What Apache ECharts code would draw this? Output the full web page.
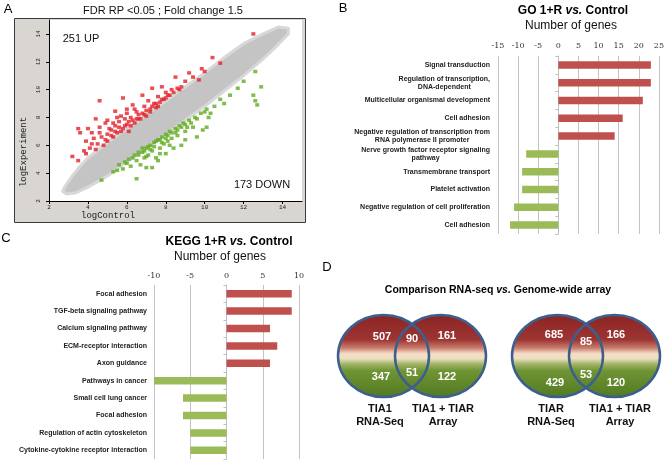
<!DOCTYPE html>
<html><head><meta charset="utf-8">
<script src="https://cdn.jsdelivr.net/npm/echarts@6/dist/echarts.min.js"></script>
<style>html,body{margin:0;padding:0;background:#fff}#c{width:667px;height:462px}</style>
</head><body><div id="c"></div>
<script>
// ---------- Panel A data (logControl, logExperiment) ----------
const cloudUpper = [[2.8,3.0],[3.2,3.8],[3.6,4.5],[4,5.1],[5,6.2],[6,7.2],[7,8.2],[8,9.2],[9,10.2],[10,11.2],[11,12.3],[12,13.3],[13,14.0],[13.8,14.5],[14.3,14.4]];
const cloudLower = [[14.3,14.0],[13.6,13.0],[13,12.2],[12,11.0],[11,9.9],[10,8.8],[9,7.8],[8,6.8],[7,5.8],[6,4.8],[5,3.8],[4,3.0],[3.4,2.6],[2.9,2.5],[2.7,2.7]];
const upPoints = [[3.2,5.2],[3.5,4.9],[3.5,7.2],[3.6,6.9],[3.8,5.6],[3.9,6.3],[4.0,7.2],[4.1,5.8],[4.2,6.9],[4.3,6.5],[4.4,5.7],[4.4,7.9],[4.5,6.1],[4.6,9.2],[4.6,7.3],[4.7,6.6],[4.8,6.0],[4.9,7.6],[5.0,7.8],[5.0,6.8],[5.0,6.3],[5.1,7.2],[5.2,7.1],[5.3,6.6],[5.4,8.45],[5.4,7.4],[5.5,6.9],[5.6,7.7],[5.7,8.1],[5.8,9.4],[5.8,7.2],[5.9,7.9],[6.0,8.3],[6.0,7.5],[6.1,7.0],[6.2,8.0],[6.3,8.9],[6.4,7.6],[6.5,8.4],[6.6,7.9],[6.8,9.6],[6.8,8.3],[6.9,8.8],[7.0,8.1],[7.1,9.2],[7.2,8.6],[7.3,10.1],[7.4,9.0],[7.5,8.7],[7.6,9.5],[7.7,9.1],[7.8,10.2],[7.9,9.3],[8.0,9.8],[8.1,9.6],[8.3,10.0],[8.5,10.9],[8.6,10.1],[8.8,10.2],[9.0,10.6],[9.2,11.2],[9.4,10.9],[9.7,10.7],[9.85,11.5],[10.0,11.3],[10.4,12.3],[10.8,11.9],[12.5,14.0],
  [4.9,6.4],[5.2,6.7],[5.4,7.0],[5.6,7.3],[5.7,7.0],[5.9,7.4],[6.1,7.7],[6.2,7.4],[6.3,7.8],[6.5,7.9],[6.6,8.2],[6.7,7.9],[6.9,8.2],[7.0,8.5],[7.2,8.4],[7.3,8.8],[7.5,9.0],[7.6,8.8],[7.8,9.3],[8.0,9.4],[8.2,9.6],[8.4,9.8],[8.7,10.0],[5.3,7.6],[5.5,8.0],[6.0,8.6],[6.4,8.6],[4.6,6.9],[4.2,6.1],[3.9,5.4]];
const downPoints = [[4.7,3.5],[5.3,4.1],[5.5,4.2],[5.8,4.3],[6.0,4.7],[6.2,4.5],[6.3,5.1],[6.5,3.6],[6.5,4.9],[6.6,5.3],[6.7,4.6],[6.8,5.5],[6.9,5.1],[7.0,4.4],[7.0,5.8],[7.1,5.3],[7.2,6.0],[7.3,4.4],[7.3,5.6],[7.4,6.2],[7.5,5.1],[7.6,4.9],[7.6,6.4],[7.7,5.8],[7.8,6.6],[7.9,6.1],[8.0,6.8],[8.0,5.4],[8.1,6.3],[8.2,7.0],[8.3,6.5],[8.4,5.8],[8.5,7.2],[8.6,6.7],[8.7,7.4],[8.8,6.0],[8.9,7.6],[9.0,6.4],[9.0,7.0],[9.2,7.8],[9.4,7.3],[9.5,8.0],[9.6,6.6],[9.8,8.3],[9.9,7.1],[10.1,8.6],[10.1,7.3],[10.3,8.3],[10.5,8.8],[10.8,9.3],[11.0,9.0],[11.3,9.6],[11.7,10.1],[12.0,10.6],[12.6,11.3],[12.9,10.2],[12.5,9.6],[12.6,9.2],[12.7,8.9],
  [6.4,5.3],[6.6,5.5],[6.8,5.8],[6.9,5.6],[7.1,5.9],[7.2,5.7],[7.4,5.9],[7.5,6.3],[7.7,6.4],[7.8,6.2],[8.0,6.5],[8.1,6.7],[8.3,6.9],[8.5,6.9],[8.6,7.1],[8.8,7.3],[9.0,7.5],[9.1,7.3],[9.3,7.6],[9.6,7.9],[10.0,8.4],[10.2,8.0],[6.1,5.0],[5.9,4.8],[5.6,4.6],[7.0,5.2],[7.7,5.4],[8.2,6.0]];
const axisATitle = 'FDR RP <0.05 ; Fold change 1.5';
const upLabel = '251 UP';
const downLabel = '173 DOWN';

// ---------- Panel B data ----------
const goCategories = ['Signal transduction','Regulation of transcription,\nDNA-dependent','Multicellular organismal development','Cell adhesion','Negative regulation of transcription from\nRNA polymerase II promoter','Nerve growth factor receptor signaling\npathway','Transmembrane transport','Platelet activation','Negative regulation of cell proliferation','Cell adhesion'];
const goValues = [23,23,21,16,14,-8,-9,-9,-11,-12];

// ---------- Panel C data ----------
const keggCategories = ['Focal adhesion','TGF-beta signaling pathway','Calcium signaling pathway','ECM-receptor interaction','Axon guidance','Pathways in cancer','Small cell lung cancer','Focal adhesion','Regulation of actin cytoskeleton','Cytokine-cytokine receptor interaction'];
const keggValues = [9,9,6,7,6,-10,-6,-6,-5,-5];

// ---------- Panel D data ----------
const vennSetNames = [['TIA1\nRNA-Seq','TIA1 + TIAR\nArray'],['TIAR\nRNA-Seq','TIA1 + TIAR\nArray']];
const vennUpCounts = [[507,90,161],[685,85,166]];
const vennDownCounts = [[347,51,122],[429,53,120]];

// ---------- helpers ----------
const RED = '#c0504d', GREEN = '#9bbb59';
const LABEL_FONT = 'bold 7px "Liberation Sans"';
function centeredLabels(cats, key) {
  const ctx = document.createElement('canvas').getContext('2d');
  ctx.font = LABEL_FONT;
  const rich = {};
  const texts = cats.map((c, i) => {
    const lines = c.split('\n');
    if (lines.length < 2) return c;
    const w = lines.map(l => ctx.measureText(l).width);
    const mw = Math.max(...w);
    return lines.map((l, j) => {
      const k = key + i + 'x' + j;
      rich[k] = {padding: [0, (mw - w[j]) / 2, 0, 0], fontSize: 7, fontWeight: 'bold', fontFamily: 'Liberation Sans', color: '#222', lineHeight: 8};
      return '{' + k + '|' + l + '}';
    }).join('\n');
  });
  return {rich, formatter: (v, i) => texts[i]};
}
const goLab = centeredLabels(goCategories, 'g');
const kgLab = centeredLabels(keggCategories, 'k');

const chart = echarts.init(document.getElementById('c'), null, {renderer: 'canvas'});

const barLabelStyle = {fontSize: 7, fontWeight: 'bold', fontFamily: 'Liberation Sans', color: '#222', lineHeight: 8};
const topAxisLabel = {fontSize: 8, fontFamily: 'DejaVu Serif', color: '#333'};

function txt(x, y, text, font, extra) {
  return Object.assign({type: 'text', x, y, z: 50, style: Object.assign({text, font, fill: '#000', align: 'center', verticalAlign: 'middle'}, extra || {})});
}

const vennLayout = [
  {cx: 412, up: [[-30,-19],[0,-17],[35,-20]], down: [[-31,21],[0,17],[35,21]], lab: [-32, 31]},
  {cx: 586, up: [[-32,-21],[0,-14],[30,-21]], down: [[-31,27],[0,19],[30,27]], lab: [-35, 34]}
];
const vennCY = 356, vennDX = 28.5, vennRX = 45.5, vennRY = 41;

function vennFill() {
  return new echarts.graphic.LinearGradient(0, 0, 0, 1, [
    {offset: 0, color: '#8c2424'}, {offset: 0.3, color: '#9c3532'}, {offset: 0.4, color: '#c77a6a'},
    {offset: 0.47, color: '#f4dcc6'}, {offset: 0.53, color: '#efe0c4'}, {offset: 0.6, color: '#9fb466'},
    {offset: 0.68, color: '#6f9434'}, {offset: 1, color: '#537a22'}
  ]);
}

const option = {
  animation: false,
  backgroundColor: '#fff',
  grid: [
    {left: 49, top: 20, width: 253, height: 181, show: true, backgroundColor: '#fff', borderWidth: 0},
    {left: 498, top: 56, width: 162, height: 178},
    {left: 154, top: 285, width: 145, height: 174},
    {left: 0, top: 0, width: 667, height: 462}
  ],
  xAxis: [
    {type: 'value', gridIndex: 0, min: 2, max: 15, interval: 2,
     axisLine: {lineStyle: {color: '#000'}}, axisTick: {length: 3, lineStyle: {color: '#000'}},
     axisLabel: {showMaxLabel: false, fontSize: 6, fontFamily: 'Liberation Mono', color: '#222', margin: 3},
     splitLine: {show: false}},
    {type: 'value', gridIndex: 1, position: 'top', min: -15, max: 25, interval: 5,
     axisLine: {show: false}, axisTick: {show: false}, axisLabel: Object.assign({margin: 6}, topAxisLabel),
     splitLine: {lineStyle: {color: '#c4c4c4'}}},
    {type: 'value', gridIndex: 2, position: 'top', min: -10, max: 10, interval: 5,
     axisLine: {show: false}, axisTick: {show: false}, axisLabel: Object.assign({margin: 5}, topAxisLabel),
     splitLine: {lineStyle: {color: '#c4c4c4'}}},
    {type: 'value', gridIndex: 3, min: 0, max: 667, show: false}
  ],
  yAxis: [
    {type: 'value', gridIndex: 0, min: 2, max: 15, interval: 2,
     axisLine: {show: true, lineStyle: {color: '#000'}}, axisTick: {show: true, length: 3, lineStyle: {color: '#000'}},
     axisLabel: {showMaxLabel: false, rotate: 90, fontSize: 6, fontFamily: 'Liberation Mono', color: '#222', margin: 8},
     splitLine: {show: false}},
    {type: 'category', gridIndex: 1, data: goCategories, inverse: true,
     axisLine: {show: false, onZero: false}, axisTick: {show: false},
     axisLabel: Object.assign({margin: 8, formatter: goLab.formatter, rich: goLab.rich}, barLabelStyle)},
    {type: 'category', gridIndex: 1, data: goCategories, inverse: true, position: 'left',
     axisLine: {show: true, onZero: true, lineStyle: {color: '#bfbfbf'}}, axisTick: {show: true, length: 3, lineStyle: {color: '#bfbfbf'}},
     axisLabel: {show: false}},
    {type: 'category', gridIndex: 2, data: keggCategories, inverse: true,
     axisLine: {show: false, onZero: false}, axisTick: {show: false},
     axisLabel: Object.assign({margin: 7, formatter: kgLab.formatter, rich: kgLab.rich}, barLabelStyle)},
    {type: 'category', gridIndex: 2, data: keggCategories, inverse: true, position: 'left',
     axisLine: {show: true, onZero: true, lineStyle: {color: '#bfbfbf'}}, axisTick: {show: true, length: 3, lineStyle: {color: '#bfbfbf'}},
     axisLabel: {show: false}},
    {type: 'value', gridIndex: 3, min: 0, max: 462, inverse: true, show: false}
  ],
  series: [
    {type: 'custom', xAxisIndex: 0, yAxisIndex: 0, data: [[0, 0]], silent: true, z: 1,
     renderItem: (p, api) => ({type: 'polygon',
       shape: {points: cloudUpper.concat(cloudLower).map(pt => api.coord(pt))},
       style: {fill: '#c4c4c4', stroke: '#d8d8d8', lineWidth: 3, lineJoin: 'round'}})},
    {type: 'scatter', xAxisIndex: 0, yAxisIndex: 0, data: upPoints, symbol: 'rect', symbolSize: [4, 3.5],
     itemStyle: {color: '#e3222a'}, z: 3},
    {type: 'scatter', xAxisIndex: 0, yAxisIndex: 0, data: downPoints, symbol: 'rect', symbolSize: [4, 3.5],
     itemStyle: {color: '#62ad22'}, z: 3},
    {type: 'bar', xAxisIndex: 1, yAxisIndex: 1, data: goValues, barWidth: 7.5,
     itemStyle: {color: p => p.value >= 0 ? RED : GREEN}},
    {type: 'bar', xAxisIndex: 2, yAxisIndex: 3, data: keggValues, barWidth: 7.5,
     itemStyle: {color: p => p.value >= 0 ? RED : GREEN}},
    {type: 'custom', xAxisIndex: 3, yAxisIndex: 5, data: [[0, 0], [1, 0]], silent: true,
     renderItem: (p, api) => {
       const i = p.dataIndex, L = vennLayout[i];
       const c1 = api.coord([L.cx - vennDX, vennCY]);
       const c2 = api.coord([L.cx + vennDX, vennCY]);
       const children = [];
       [c1, c2].forEach(c => children.push({type: 'ellipse', shape: {cx: c[0], cy: c[1], rx: vennRX, ry: vennRY}, style: {fill: vennFill()}}));
       [c1, c2].forEach(c => children.push({type: 'ellipse', shape: {cx: c[0], cy: c[1], rx: vennRX, ry: vennRY}, style: {fill: 'none', stroke: '#3d5f8e', lineWidth: 2.5}}));
       vennUpCounts[i].forEach((v, k) => {
         const q = api.coord([L.cx + L.up[k][0], vennCY + L.up[k][1]]);
         children.push({type: 'text', x: q[0], y: q[1], style: {text: String(v), font: 'bold 11px "Liberation Sans"', fill: '#fff', align: 'center', verticalAlign: 'middle'}});
       });
       vennDownCounts[i].forEach((v, k) => {
         const q = api.coord([L.cx + L.down[k][0], vennCY + L.down[k][1]]);
         children.push({type: 'text', x: q[0], y: q[1], style: {text: String(v), font: 'bold 11px "Liberation Sans"', fill: '#fff', align: 'center', verticalAlign: 'middle'}});
       });
       vennSetNames[i].forEach((s, k) => {
         const q = api.coord([L.cx + L.lab[k], 415.5]);
         children.push({type: 'text', x: q[0], y: q[1], style: {text: s, font: 'bold 11px "Liberation Sans"', fill: '#111', align: 'center', verticalAlign: 'middle', lineHeight: 13}});
       });
       return {type: 'group', children};
     }}
  ],
  graphic: [
    {type: 'rect', z: -10, shape: {x: 14.5, y: 18.5, width: 291, height: 204}, style: {fill: '#d9d6d1', stroke: '#3a3a3a', lineWidth: 1}},
    txt(8, 9, 'A', '13px "Liberation Sans"'),
    txt(343, 8, 'B', '13px "Liberation Sans"'),
    txt(6, 238, 'C', '13px "Liberation Sans"'),
    txt(327, 267, 'D', '13px "Liberation Sans"'),
    txt(163, 11, axisATitle, '11px "Liberation Sans"', {fill: '#111'}),
    txt(81, 39, upLabel, '11px "Liberation Sans"', {fill: '#111'}),
    txt(262, 185, downLabel, '11px "Liberation Sans"', {fill: '#111'}),
    txt(108, 216, 'logControl', '9px "Liberation Mono"', {fill: '#222'}),
    Object.assign(txt(24, 152, 'logExperiment', '9px "Liberation Mono"', {fill: '#222'}), {rotation: Math.PI / 2}),
    txt(573, 11, '{b|GO 1+R }{i|vs.}{b| Control}', '12px "Liberation Sans"', {rich: {b: {fontWeight: 'bold', fontSize: 12, fontFamily: 'Liberation Sans'}, i: {fontWeight: 'bold', fontStyle: 'italic', fontSize: 12, fontFamily: 'Liberation Sans'}}}),
    txt(571, 26, 'Number of genes', '12px "Liberation Sans"', {fill: '#111'}),
    txt(229, 242, '{b|KEGG 1+R }{i|vs.}{b| Control}', '12px "Liberation Sans"', {rich: {b: {fontWeight: 'bold', fontSize: 12, fontFamily: 'Liberation Sans'}, i: {fontWeight: 'bold', fontStyle: 'italic', fontSize: 12, fontFamily: 'Liberation Sans'}}}),
    txt(220, 257, 'Number of genes', '12px "Liberation Sans"', {fill: '#111'}),
    txt(498, 290, '{b|Comparison RNA-seq }{i|vs.}{b| Genome-wide array}', '10.5px "Liberation Sans"', {rich: {b: {fontWeight: 'bold', fontSize: 10.5, fontFamily: 'Liberation Sans'}, i: {fontWeight: 'bold', fontStyle: 'italic', fontSize: 10.5, fontFamily: 'Liberation Sans'}}})
  ]
};
chart.setOption(option);
</script></body></html>
